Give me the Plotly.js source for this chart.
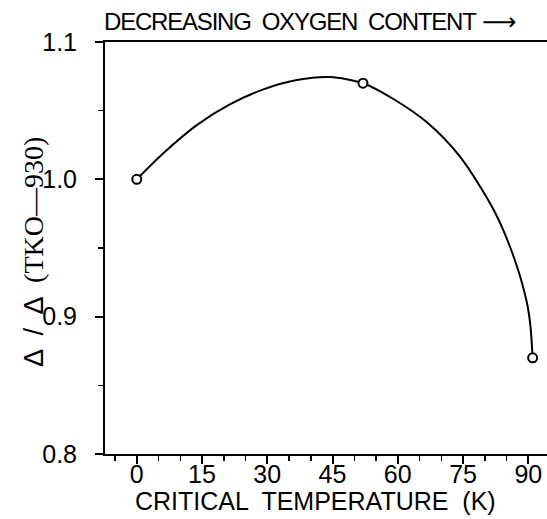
<!DOCTYPE html>
<html>
<head>
<meta charset="utf-8">
<script src="https://cdn.plot.ly/plotly-3.0.1.min.js"></script>
<style>
  html, body { margin: 0; padding: 0; background: #fff; }
  #chart { width: 547px; height: 519px; }
</style>
</head>
<body>
<div id="chart"></div>
<script>
// Measured gap ratio vs. critical temperature
const tcK = [0, 52, 91];
const gapRatio = [1.0, 1.07, 0.87];

// Guide-to-the-eye curve through the measurements
const curveTc = [0, 6.1, 13.8, 21.4, 29.1, 36.8, 44.4, 52, 59, 66.7, 74.3, 82, 86.6, 89.7, 90.5, 91];
const curveRatio = [1.0, 1.019, 1.0395, 1.0545, 1.0655, 1.0723, 1.0745, 1.07, 1.0585, 1.0415, 1.0165, 0.978, 0.944, 0.91, 0.893, 0.87];

// Axis ticks
const xTicks = [0, 15, 30, 45, 60, 75, 90];
const xTickText = ['0', '15', '30', '45', '60', '75', '90'];
const yTicks = [0.8, 0.9, 1.0, 1.1];
const yTickText = ['0.8', '0.9', '1.0', '1.1'];
const xRange = [-7.3, 94.3];

const sans = 'Liberation Sans, Arial, Helvetica, sans-serif';
const serif = 'Liberation Serif, Times New Roman, serif';
const plotLeft = 105, plotWidth = 442;

const traces = [
  {
    x: curveTc, y: curveRatio,
    type: 'scatter', mode: 'lines',
    line: { color: '#000', width: 2, shape: 'spline', smoothing: 0.8 },
    hoverinfo: 'skip', showlegend: false
  },
  {
    x: tcK, y: gapRatio,
    type: 'scatter', mode: 'markers',
    marker: { symbol: 'circle', size: 9, color: '#fff', line: { color: '#000', width: 2 } },
    showlegend: false
  },
  {
    // carries the labelled overlay x axis; draws nothing itself
    x: tcK, y: gapRatio, xaxis: 'x2',
    type: 'scatter', mode: 'none',
    hoverinfo: 'skip', showlegend: false
  }
];

const layout = {
  width: 547, height: 519,
  margin: { l: plotLeft, r: 0, t: 42, b: 65 },
  paper_bgcolor: '#fff', plot_bgcolor: '#fff',
  font: { family: sans, color: '#000', size: 25 },
  showlegend: false,
  // tick marks and frame
  xaxis: {
    range: xRange,
    tickvals: xTicks,
    ticks: 'outside', ticklen: 8, tickwidth: 2, tickcolor: '#000',
    minor: { dtick: 5, tick0: 0, ticks: 'outside', ticklen: 5, tickwidth: 1.5, tickcolor: '#000', showgrid: false },
    showline: true, linecolor: '#000', linewidth: 2, mirror: true,
    showgrid: false, zeroline: false,
    showticklabels: false
  },
  // tick labels, set close under the tick marks
  xaxis2: {
    overlaying: 'x', anchor: 'y', side: 'bottom',
    range: xRange,
    tickvals: xTicks, ticktext: xTickText,
    ticks: '', showline: false, showgrid: false, zeroline: false,
    tickfont: { family: sans, size: 25, color: '#000' },
    ticklabelstandoff: 3
  },
  yaxis: {
    range: [0.8, 1.1],
    tickvals: yTicks, ticktext: yTickText,
    ticks: 'outside', ticklen: 8, tickwidth: 2, tickcolor: '#000',
    minor: { dtick: 0.05, tick0: 0.8, ticks: 'outside', ticklen: 5, tickwidth: 1.5, tickcolor: '#000', showgrid: false },
    showline: true, linecolor: '#000', linewidth: 2,
    showgrid: false, zeroline: false,
    tickfont: { family: sans, size: 25, color: '#000' },
    ticklabelstandoff: 13
  },
  annotations: [
    {
      text: '<span style="letter-spacing:-1.2px">DECREASING  OXYGEN  CONTENT</span> <span style="font-family:DejaVu Sans">⟶</span>',
      xref: 'paper', yref: 'paper', x: -0.007, y: 1, xanchor: 'left', yanchor: 'bottom',
      yshift: 4, showarrow: false,
      font: { family: sans, size: 24, color: '#000' }
    },
    {
      text: 'CRITICAL  TEMPERATURE  (K)',
      xref: 'paper', yref: 'paper', x: (315 - plotLeft) / plotWidth, y: 0,
      xanchor: 'center', yanchor: 'middle', yshift: -47, showarrow: false,
      font: { family: sans, size: 25, color: '#000' }
    },
    {
      text: 'Δ  /  Δ  <span style="font-family:' + serif + ';font-size:28px">(TKO—930)</span>',
      textangle: -90,
      xref: 'paper', yref: 'paper', x: 0, y: 0.5,
      xanchor: 'center', yanchor: 'middle', xshift: -72, yshift: -4, showarrow: false,
      font: { family: sans, size: 27, color: '#000' }
    }
  ]
};

Plotly.newPlot('chart', traces, layout, { staticPlot: true, displayModeBar: false });
</script>
</body>
</html>
